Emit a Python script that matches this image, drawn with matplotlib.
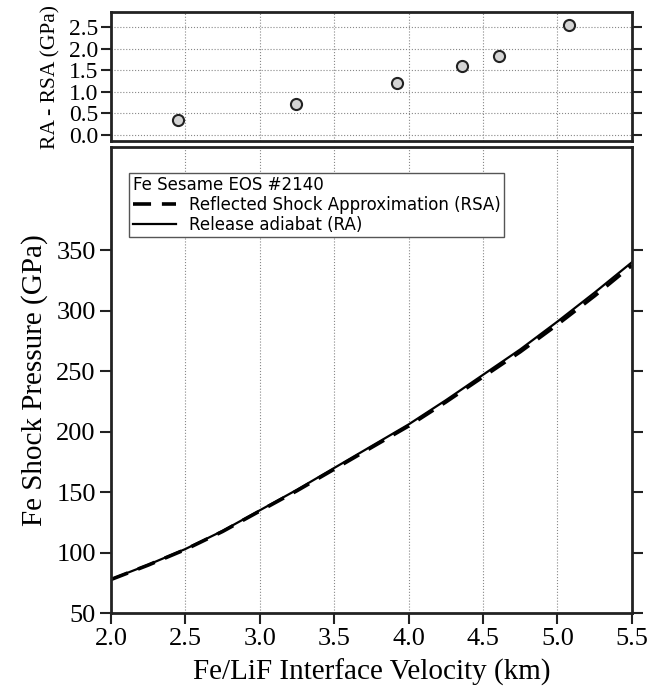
import numpy as np
import matplotlib
matplotlib.use('Agg')
import matplotlib.pyplot as plt

# interface velocity grid (km/s) and shock pressures (GPa)
velocity = [2.0, 2.25, 2.5, 2.75, 3.0, 3.25, 3.5, 3.75, 4.0, 4.25, 4.5, 4.75, 5.0, 5.25, 5.5]
p_release = [78, 90, 103, 118, 135, 152, 170, 188, 206, 226, 247, 268, 291, 315, 340]
p_reflected = [77.8, 89.7, 102.6, 117.5, 134.4, 151.2, 169.0, 186.9, 204.7, 224.5, 245.3, 266.0, 288.6, 312.3, 337.5]

# difference RA - RSA (top panel)
diff_velocity = [2.45, 3.24, 3.92, 4.36, 4.61, 5.08]
diff_pressure = [0.35, 0.72, 1.20, 1.60, 1.83, 2.55]

serif = 'Liberation Serif'
edge = '#222222'

fig = plt.figure(figsize=(6.66, 6.92), dpi=100)
ax_top = fig.add_axes([0.1667, 0.796, 0.782, 0.186])
ax = fig.add_axes([0.1667, 0.114, 0.782, 0.673])

# top panel
ax_top.plot(diff_velocity, diff_pressure, 'o', ms=8, mfc='#d4d4d4', mec=edge, mew=1.5)
ax_top.set_xlim(2.0, 5.5)
ax_top.set_ylim(-0.15, 2.85)
ax_top.set_yticks([0.0, 0.5, 1.0, 1.5, 2.0, 2.5])
ax_top.set_yticklabels(['0.0', '0.5', '1.0', '1.5', '2.0', '2.5'], fontname=serif, fontsize=17)
ax_top.set_xticks(np.arange(2.0, 5.51, 0.5))
ax_top.tick_params(axis='x', length=0, labelbottom=False)
ax_top.tick_params(axis='y', direction='out', length=7, width=1.5, right=True, color=edge, pad=2)
ax_top.grid(True, linestyle=':', color='#888888', linewidth=0.8)
ax_top.set_ylabel('RA - RSA (GPa)', fontname=serif, fontsize=15.5, labelpad=6)

# bottom panel
ax.plot(velocity, p_reflected, '--', color='black', lw=2.6, dashes=(5, 3), label='Reflected Shock Approximation (RSA)')
ax.plot(velocity, p_release, '-', color='black', lw=1.6, label='Release adiabat (RA)')
ax.set_xlim(2.0, 5.5)
ax.set_ylim(50, 435)
ax.set_xticks(np.arange(2.0, 5.51, 0.5))
ax.set_xticklabels(['%.1f' % v for v in np.arange(2.0, 5.51, 0.5)], fontname=serif, fontsize=19)
ax.set_yticks(range(50, 351, 50))
ax.set_yticklabels([str(v) for v in range(50, 351, 50)], fontname=serif, fontsize=19)
ax.tick_params(direction='out', length=8, width=1.5, color=edge, pad=3)
ax.tick_params(axis='y', right=True)
ax.xaxis.grid(True, linestyle=':', color='#888888', linewidth=0.8)
ax.set_xlabel('Fe/LiF Interface Velocity (km)', fontname=serif, fontsize=21, labelpad=6)
ax.set_ylabel('Fe Shock Pressure (GPa)', fontname=serif, fontsize=21, labelpad=6)

for a in (ax_top, ax):
    for s in a.spines.values():
        s.set_linewidth(2)
        s.set_color(edge)

leg = ax.legend(title='Fe Sesame EOS #2140', loc='upper left', bbox_to_anchor=(0.035, 0.945),
                prop={'family': 'DejaVu Sans', 'size': 12}, title_fontproperties={'family': 'DejaVu Sans', 'size': 12},
                fancybox=False, framealpha=1, edgecolor='#555555', handlelength=2.6, borderpad=0.2,
                labelspacing=0.1, handletextpad=0.8, borderaxespad=0)
leg._legend_box.align = 'left'
leg.get_frame().set_linewidth(1.0)

fig.savefig('out.png', dpi=100)
